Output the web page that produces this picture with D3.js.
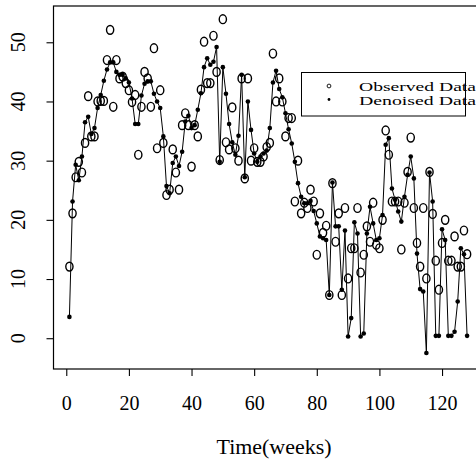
<!DOCTYPE html>
<html>
<head>
<meta charset="utf-8">
<script src="https://cdn.jsdelivr.net/npm/d3@7"></script>
<style>
  body { margin: 0; background: #fff; }
  svg { display: block; }
  text { font-family: "Liberation Serif", "DejaVu Serif", serif; fill: #000; }
</style>
</head>
<body>
<div id="chart"></div>
<script>
// weekly values (weeks 1..128)
const observed = [
  12.1, 21.1, 27.2, 29.8, 28.0, 33.0, 40.9, 34.1, 34.1, 40.0,
  40.1, 40.1, 47.0, 52.1, 39.1, 47.0, 43.9, 44.2, 43.1, 41.9,
  39.9, 41.1, 31.0, 39.1, 45.0, 43.9, 39.1, 49.0, 32.1, 41.9,
  33.0, 24.2, 25.1, 31.9, 28.0, 25.1, 36.0, 38.0, 36.0, 29.0,
  36.0, 34.1, 42.0, 50.1, 43.1, 43.1, 51.1, 45.0, 30.1, 53.9,
  33.1, 31.9, 39.0, 32.1, 30.0, 43.9, 27.0, 43.9, 30.0, 32.1,
  29.8, 29.8, 30.7, 32.3, 33.0, 48.1, 40.0, 43.9, 40.0, 34.1,
  37.2, 37.2, 23.1, 30.0, 21.1, 22.9, 22.0, 25.1, 23.1, 14.1,
  21.1, 17.8, 19.0, 7.3, 26.2, 16.3, 21.1, 7.3, 22.0, 10.1,
  15.2, 15.2, 22.0, 11.1, 14.1, 18.9, 16.3, 22.9, 15.8, 15.2,
  20.0, 35.1, 31.0, 23.1, 23.1, 23.1, 15.0, 22.9, 28.1, 33.9,
  22.0, 16.1, 12.1, 22.0, 10.1, 28.1, 21.0, 13.1, 8.2, 16.1,
  20.0, 13.1, 13.1, 17.2, 12.1, 12.1, 18.2, 14.2
];
const denoised = [
  3.6, 23.1, 29.3, 26.7, 30.7, 36.5, 37.4, 34.5, 35.5, 38.9,
  41.1, 43.5, 45.4, 46.6, 46.6, 45.0, 44.5, 44.5, 43.9, 43.2,
  40.5, 36.2, 36.2, 41.0, 43.0, 43.4, 43.4, 41.3, 40.0, 38.9,
  34.1, 25.7, 24.5, 29.6, 30.7, 29.1, 31.5, 36.6, 37.6, 35.5,
  36.0, 38.6, 41.4, 45.8, 47.3, 46.2, 46.7, 49.2, 29.8, 45.8,
  41.3, 36.2, 33.1, 31.0, 34.2, 44.5, 27.2, 40.0, 35.2, 31.2,
  29.8, 30.7, 31.2, 31.7, 35.5, 43.2, 45.2, 42.1, 40.7, 38.0,
  35.3, 32.9, 29.8, 26.2, 23.9, 22.8, 22.8, 23.2, 21.5, 19.4,
  17.2, 16.9, 16.6, 7.3, 26.3, 18.9, 18.9, 8.2, 18.2, 0.3,
  3.4, 19.6, 17.7, 0.3, 0.8, 17.7, 22.2, 19.4, 16.6, 16.9,
  20.8, 32.7, 33.8, 25.3, 23.4, 21.4, 19.7, 23.9, 27.6, 30.7,
  27.0, 14.3, 8.3, 7.9, -2.5, 28.0, 23.1, 0.4, 0.4, 18.4,
  16.6, 0.4, 0.4, 1.1, 6.2, 15.2, 14.2, 0.4
];
const weeks = observed.map((d, i) => i + 1);

const xTicks = [0, 20, 40, 60, 80, 100, 120];
const yTicks = [0, 10, 20, 30, 40, 50];
const legendLabels = ["Observed Data", "Denoised Data"];
const xLabel = "Time(weeks)";

const width = 476, height = 462;
// plot box (right side runs off the picture, like the original)
const box = { left: 53.5, top: 6, right: 483, bottom: 369 };

const svg = d3.select("#chart").append("svg")
  .attr("width", width)
  .attr("height", height);

// R style 4% padding on each side
const x = d3.scaleLinear().domain([-4.08, 133.08]).range([box.left, box.right]);
const y = d3.scaleLinear().domain([-5.2, 56.13]).range([box.bottom, box.top]);

// frame
svg.append("rect")
  .attr("x", box.left).attr("y", box.top)
  .attr("width", box.right - box.left).attr("height", box.bottom - box.top)
  .attr("fill", "none").attr("stroke", "#000").attr("stroke-width", 1.2);

// x axis: ticks below frame
const xAxis = d3.axisBottom(x).tickValues(xTicks).tickSize(7).tickPadding(20);
const gx = svg.append("g").attr("transform", `translate(0,${box.bottom})`).call(xAxis);
gx.select(".domain").remove();
gx.selectAll("line").attr("stroke", "#000").attr("stroke-width", 1.1);
gx.selectAll("text").attr("font-size", 20).attr("font-family", "Liberation Serif, serif");

// y axis: labels rotated like R's las=0
const yAxis = d3.axisLeft(y).tickValues(yTicks).tickSize(7).tickFormat("");
const gy = svg.append("g").attr("transform", `translate(${box.left},0)`).call(yAxis);
gy.select(".domain").remove();
gy.selectAll("line").attr("stroke", "#000").attr("stroke-width", 1.1);

svg.append("g").selectAll("text")
  .data(yTicks)
  .enter().append("text")
  .attr("transform", d => `translate(25,${y(d)}) rotate(-90)`)
  .attr("text-anchor", "middle")
  .attr("font-size", 20)
  .text(d => d);

// axis title
svg.append("text")
  .attr("x", 274).attr("y", 454)
  .attr("text-anchor", "middle")
  .attr("font-size", 20)
  .attr("textLength", 115)
  .attr("lengthAdjust", "spacingAndGlyphs")
  .text(xLabel);

// observed: open "O" marks
svg.append("g").selectAll("ellipse")
  .data(weeks)
  .enter().append("ellipse")
  .attr("cx", d => x(d))
  .attr("cy", (d, i) => y(observed[i]))
  .attr("rx", 3.6).attr("ry", 4.4)
  .attr("fill", "none")
  .attr("stroke", "#000")
  .attr("stroke-width", 1.4);

// denoised: line with filled points
const line = d3.line()
  .x(d => x(d))
  .y((d, i) => y(denoised[i]));

svg.append("path")
  .datum(weeks)
  .attr("d", line)
  .attr("fill", "none")
  .attr("stroke", "#000")
  .attr("stroke-width", 1);

svg.append("g").selectAll("circle")
  .data(weeks)
  .enter().append("circle")
  .attr("cx", d => x(d))
  .attr("cy", (d, i) => y(denoised[i]))
  .attr("r", 2.3)
  .attr("fill", "#000");

// legend
const lg = svg.append("g");
lg.append("rect")
  .attr("x", 301.5).attr("y", 72.5)
  .attr("width", 164).attr("height", 43.5)
  .attr("fill", "#fff").attr("stroke", "#000").attr("stroke-width", 1);

lg.append("circle")
  .attr("cx", 329).attr("cy", 86).attr("r", 1.9)
  .attr("fill", "none").attr("stroke", "#000").attr("stroke-width", 0.9);
lg.append("circle")
  .attr("cx", 329).attr("cy", 99.5).attr("r", 1.4)
  .attr("fill", "#000");

lg.selectAll("text.lab")
  .data(legendLabels)
  .enter().append("text")
  .attr("class", "lab")
  .attr("x", 359)
  .attr("y", (d, i) => 90.5 + i * 14)
  .attr("font-size", 13)
  .attr("textLength", 117)
  .attr("lengthAdjust", "spacingAndGlyphs")
  .text(d => d);
</script>
</body>
</html>
